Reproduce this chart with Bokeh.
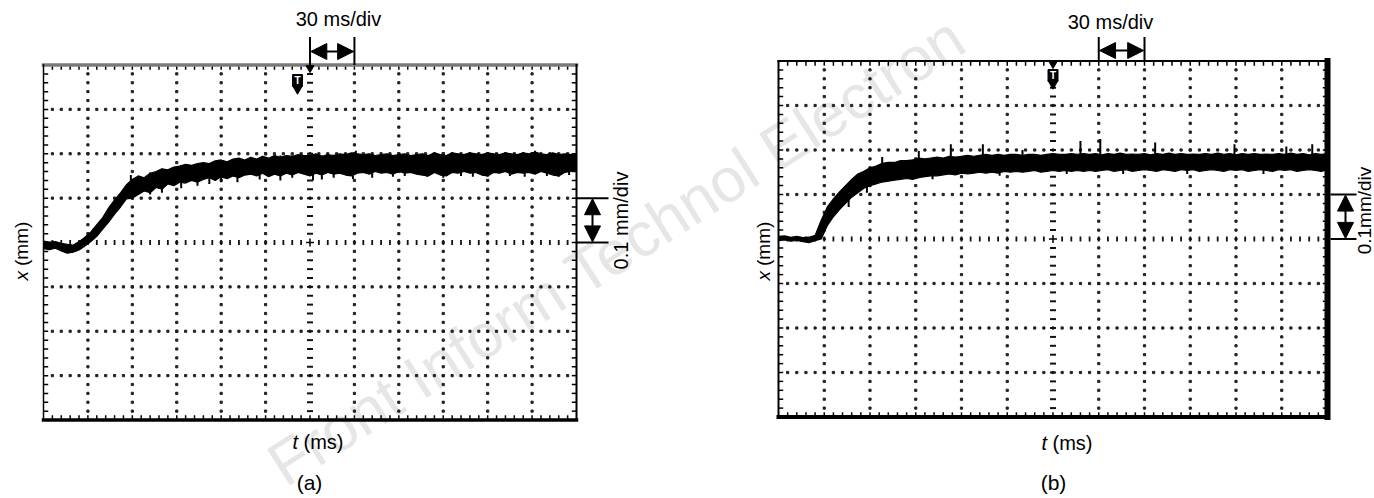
import math
from bokeh.plotting import figure
from bokeh.models import Range1d, Arrow, NormalHead
from bokeh.core.properties import value
from bokeh.embed import file_html
from bokeh.resources import INLINE

# ------------------------------------------------------------------ data
# time axis of both traces (ms), 30 ms/div, 12 div; trigger at centre
T_MS = list(range(0, 361, 4))

# panel (a): envelope of the noisy displacement trace (mm)
A_LOW = [-0.014, -0.016, -0.013, -0.019, -0.024, -0.022, -0.017, -0.008, 0.002, 0.014,
         0.030, 0.046, 0.064, 0.080, 0.098, 0.100, 0.108, 0.116, 0.112, 0.124,
         0.120, 0.132, 0.128, 0.136, 0.134, 0.140, 0.136, 0.142, 0.146, 0.140,
         0.148, 0.144, 0.150, 0.146, 0.152, 0.154, 0.150, 0.156, 0.148, 0.154,
         0.150, 0.156, 0.152, 0.158, 0.154, 0.150, 0.156, 0.152, 0.158, 0.154,
         0.156, 0.152, 0.150, 0.156, 0.158, 0.154, 0.160, 0.156, 0.158, 0.154,
         0.160, 0.156, 0.158, 0.154, 0.152, 0.150, 0.158, 0.152, 0.150, 0.158,
         0.156, 0.160, 0.156, 0.158, 0.152, 0.150, 0.158, 0.156, 0.160, 0.154,
         0.158, 0.156, 0.158, 0.154, 0.160, 0.156, 0.152, 0.150, 0.158, 0.160,
         0.162]
A_HIGH = [0.003, 0.001, 0.002, -0.002, -0.004, -0.006, 0.002, 0.012, 0.024, 0.040,
          0.056, 0.078, 0.096, 0.112, 0.130, 0.142, 0.150, 0.146, 0.156, 0.160,
          0.166, 0.164, 0.170, 0.172, 0.176, 0.174, 0.178, 0.180, 0.178, 0.184,
          0.186, 0.182, 0.188, 0.190, 0.186, 0.192, 0.188, 0.194, 0.190, 0.196,
          0.192, 0.196, 0.194, 0.198, 0.196, 0.196, 0.200, 0.194, 0.198, 0.196,
          0.200, 0.198, 0.202, 0.200, 0.198, 0.200, 0.196, 0.198, 0.200, 0.196,
          0.198, 0.200, 0.196, 0.198, 0.200, 0.196, 0.202, 0.198, 0.196, 0.202,
          0.200, 0.198, 0.202, 0.200, 0.198, 0.202, 0.200, 0.198, 0.202, 0.200,
          0.198, 0.202, 0.200, 0.204, 0.200, 0.198, 0.202, 0.198, 0.200, 0.198,
          0.200]
A_SPIKE_T = [59, 72, 80, 93, 104, 112, 120, 131, 146, 160, 168, 182, 188, 196, 209,
             211, 222, 236, 244, 259, 270, 282, 290, 300, 315, 325, 332, 340, 348, 355]
A_SPIKE_LO = [0.104, 0.108, 0.112, 0.122, 0.128, 0.132, 0.136, 0.136, 0.142, 0.140,
              0.146, 0.140, 0.142, 0.146, 0.143, 0.160, 0.146, 0.148, 0.150, 0.148,
              0.146, 0.150, 0.148, 0.148, 0.150, 0.148, 0.160, 0.150, 0.148, 0.152]
A_SPIKE_HI = [0.152, 0.158, 0.166, 0.174, 0.170, 0.176, 0.184, 0.186, 0.190, 0.196,
              0.196, 0.196, 0.196, 0.198, 0.196, 0.207, 0.198, 0.196, 0.198, 0.196,
              0.198, 0.200, 0.200, 0.198, 0.200, 0.200, 0.207, 0.198, 0.198, 0.200]

# panel (b)
B_LOW = [-0.004, -0.002, -0.005, -0.003, -0.006, -0.008, -0.004, 0.000, 0.030, 0.050,
         0.066, 0.080, 0.094, 0.104, 0.114, 0.120, 0.124, 0.128, 0.130, 0.132,
         0.134, 0.136, 0.134, 0.138, 0.140, 0.142, 0.142, 0.144, 0.146, 0.144,
         0.148, 0.146, 0.148, 0.150, 0.148, 0.150, 0.148, 0.152, 0.150, 0.152,
         0.150, 0.152, 0.154, 0.150, 0.152, 0.154, 0.152, 0.154, 0.152, 0.154,
         0.152, 0.154, 0.152, 0.154, 0.156, 0.152, 0.154, 0.156, 0.152, 0.154,
         0.156, 0.154, 0.152, 0.156, 0.154, 0.152, 0.156, 0.154, 0.156, 0.152,
         0.154, 0.156, 0.154, 0.152, 0.156, 0.154, 0.156, 0.152, 0.154, 0.156,
         0.154, 0.152, 0.156, 0.154, 0.156, 0.152, 0.154, 0.156, 0.154, 0.152,
         0.156]
B_HIGH = [0.006, 0.007, 0.004, 0.006, 0.003, 0.004, 0.008, 0.042, 0.072, 0.090,
          0.106, 0.120, 0.134, 0.146, 0.152, 0.160, 0.164, 0.170, 0.172, 0.172,
          0.176, 0.176, 0.178, 0.182, 0.180, 0.182, 0.184, 0.182, 0.186, 0.184,
          0.186, 0.188, 0.186, 0.188, 0.190, 0.188, 0.190, 0.188, 0.190, 0.190,
          0.188, 0.190, 0.190, 0.188, 0.190, 0.192, 0.190, 0.190, 0.192, 0.190,
          0.192, 0.190, 0.192, 0.189, 0.192, 0.190, 0.193, 0.190, 0.191, 0.190,
          0.192, 0.189, 0.192, 0.190, 0.193, 0.190, 0.192, 0.190, 0.191, 0.190,
          0.192, 0.190, 0.193, 0.190, 0.192, 0.189, 0.192, 0.190, 0.192, 0.190,
          0.191, 0.190, 0.192, 0.190, 0.193, 0.190, 0.192, 0.189, 0.192, 0.190,
          0.192]
B_SPIKE_T = [46, 58, 68, 92, 101, 113, 134, 145, 160, 189, 198, 211, 226, 247, 268,
             299, 318, 333, 350]
B_SPIKE_LO = [0.072, 0.104, 0.165, 0.172, 0.134, 0.176, 0.178, 0.142, 0.180, 0.146,
              0.180, 0.180, 0.146, 0.180, 0.146, 0.180, 0.146, 0.180, 0.180]
B_SPIKE_HI = [0.110, 0.140, 0.184, 0.198, 0.160, 0.213, 0.213, 0.170, 0.200, 0.170,
              0.220, 0.225, 0.170, 0.217, 0.170, 0.213, 0.170, 0.208, 0.213]

for arr in (A_LOW, A_HIGH, B_LOW, B_HIGH):
    assert len(arr) == len(T_MS)
assert len(A_SPIKE_T) == len(A_SPIKE_LO) == len(A_SPIKE_HI)
assert len(B_SPIKE_T) == len(B_SPIKE_LO) == len(B_SPIKE_HI)

# texts
TIME_DIV = "30 ms/div"
AMP_DIV = ["0.1 mm/div", "0.1mm/div"]
Y_LABEL = ("x", "(mm)")
X_LABEL = ("t", "(ms)")
CAPTIONS = ["(a)", "(b)"]
WATERMARK = "Front Inform Technol Electron"

# ------------------------------------------------------------------ figure
W, H = 1374, 498
FONT = "Liberation Sans"

p = figure(width=W, height=H, x_range=Range1d(0, W), y_range=Range1d(H, 0),
           output_backend="svg", toolbar_location=None, min_border=0,
           x_axis_location=None, y_axis_location=None, outline_line_color=None)
p.xgrid.grid_line_color = None
p.ygrid.grid_line_color = None
p.background_fill_color = "white"
p.border_fill_color = "white"


def txt(x, y, s, size, angle=0.0, align="center", baseline="middle",
        style="normal", color="black"):
    p.text(x=[x], y=[y], text=[s], angle=angle, text_font=value(FONT),
           text_font_size=f"{size}px", text_font_style=style, text_color=color,
           text_align=align, text_baseline=baseline)


# watermark (behind everything)
txt(616, 250, WATERMARK, 62, angle=0.57, color="#e6e6e6")

panels = [
    dict(name="a", L=43, R=576, T=64.5, B=419.5, low=A_LOW, high=A_HIGH,
         st=A_SPIKE_T, slo=A_SPIKE_LO, shi=A_SPIKE_HI,
         top=("#7a7a7a", 3.5), left=("black", 1.5), bottom=("black", 3.5), right=("black", 2),
         div_lines=(180, 210), div_top=36.5, div_arrow=51, div_text=(338, 18),
         amp_x=(576, 608, 592), amp_text=(620, 220), amp_size=20,
         ylab=(21, 280), xlab=(292, 441), cap=(309, 482),
         badge=(297, 80), trig_y=67.5),
    dict(name="b", L=778, R=1327, T=60.5, B=416.5, low=B_LOW, high=B_HIGH,
         st=B_SPIKE_T, slo=B_SPIKE_LO, shi=B_SPIKE_HI,
         top=("black", 2), left=("black", 2), bottom=("black", 4), right=("black", 6),
         div_lines=(210, 240), div_top=36.5, div_arrow=50, div_text=(1110, 21),
         amp_x=(1330, 1356, 1345), amp_text=(1364, 210), amp_size=19,
         ylab=(763, 280), xlab=(1041, 442), cap=(1053, 482),
         badge=(1052.5, 75), trig_y=63.5),
]

ex_x, ex_y = {}, {}
for P in panels:
    Lc, Rc, Tc, Bc = P["L"], P["R"], P["T"], P["B"]
    sx = (Rc - Lc) / 360.0
    sy = (Bc - Tc) / 0.8
    Cc = (Tc + Bc) / 2.0
    xr, yr = "t_" + P["name"], "x_" + P["name"]
    ex_x[xr] = Range1d(-Lc / sx, (W - Lc) / sx)
    ex_y[yr] = Range1d((Cc - H) / sy, Cc / sy)
    P.update(Tc=Tc, sx=sx, sy=sy, xr=xr, yr=yr)
p.extra_x_ranges = ex_x
p.extra_y_ranges = ex_y

for P in panels:
    kw = dict(x_range_name=P["xr"], y_range_name=P["yr"])
    sx, sy = P["sx"], P["sy"]

    # dotted major grid lines (dots every 1/5 division)
    gx, gy = [], []
    for k in range(1, 12):
        if k == 6:
            continue
        for j in range(1, 40):
            gx.append(30 * k)
            gy.append(-0.4 + 0.02 * j)
    for m in (-3, -2, -1, 1, 2, 3):
        for j in range(1, 60):
            gx.append(6 * j)
            gy.append(0.1 * m)
    p.scatter(gx, gy, marker="square", size=2.2, color="#222222", **kw)

    # centre cross with tick marks
    cy = [0.02 * j for j in range(-19, 20) if j != 0]
    p.scatter([180] * len(cy), cy, marker="dash", size=6, line_width=2, color="#111111", **kw)
    cx = [6 * j for j in range(1, 60) if j != 30]
    p.scatter(cx, [0] * len(cx), marker="dash", size=5, angle=math.pi / 2,
              line_width=1.8, color="#111111", **kw)
    p.scatter([180], [0], marker="cross", size=8, line_width=1.5, color="black", **kw)

    # ticks along the frame edges
    ey = [-0.4 + 0.02 * j for j in range(1, 40)]
    ex = [6 * j for j in range(1, 60)]
    p.scatter([2.2 / sx] * len(ey), ey, marker="dash", size=5, line_width=1.5, color="black", **kw)
    p.scatter([360 - 2.2 / sx] * len(ey), ey, marker="dash", size=5, line_width=1.5, color="black", **kw)
    p.scatter(ex, [0.4 - 2.2 / sy] * len(ex), marker="dash", size=5, angle=math.pi / 2,
              line_width=1.5, color="black", **kw)
    p.scatter(ex, [-0.4 + 2.2 / sy] * len(ex), marker="dash", size=5, angle=math.pi / 2,
              line_width=1.5, color="black", **kw)

    # the trace
    p.varea(x=T_MS, y1=P["low"], y2=P["high"], fill_color="black", **kw)
    p.line(x=T_MS, y=P["low"], line_color="black", line_width=1.2, **kw)
    p.line(x=T_MS, y=P["high"], line_color="black", line_width=1.2, **kw)
    p.segment(x0=P["st"], y0=P["slo"], x1=P["st"], y1=P["shi"], line_color="black",
              line_width=2, **kw)

    # frame
    for (x0, y0, x1, y1), (col, lw) in [((0, 0.4, 360, 0.4), P["top"]),
                                         ((0, -0.4, 0, 0.4), P["left"]),
                                         ((0, -0.4, 360, -0.4), P["bottom"]),
                                         ((360, -0.4, 360, 0.4), P["right"])]:
        p.segment(x0=[x0], y0=[y0], x1=[x1], y1=[y1], line_color=col, line_width=lw,
                  line_cap="square", **kw)

    # trigger marker
    p.scatter([180], [P["trig_y"]], marker="inverted_triangle", size=8, color="black",
              x_range_name=P["xr"])
    bx, by = P["badge"]
    p.rect([bx], [by], width=10, height=12, width_units="screen", height_units="screen",
           fill_color="black", line_color="black")
    p.scatter([bx], [by + 8], marker="inverted_triangle", size=10, color="black")
    txt(bx, by - 0.5, "T", 10, style="bold", color="white")

    # 30 ms/div bracket
    d0, d1 = P["div_lines"]
    p.segment(x0=[d0, d1], y0=[P["div_top"]] * 2, x1=[d0, d1], y1=[P["Tc"]] * 2,
              line_color="black", line_width=2, x_range_name=P["xr"])
    ya = P["div_arrow"]
    p.add_layout(Arrow(x_start=d0 + 0.8 / sx, y_start=ya, x_end=d1 - 0.8 / sx, y_end=ya,
                       line_width=2, line_color="black",
                       start=NormalHead(size=16, fill_color="black", line_color="black"),
                       end=NormalHead(size=16, fill_color="black", line_color="black"),
                       x_range_name=P["xr"]))
    tx, ty = P["div_text"]
    txt(tx, ty, TIME_DIV, 20)

    # 0.1 mm/div bracket
    a0, a1, ax = P["amp_x"]
    p.segment(x0=[a0] * 2, y0=[0.1, 0.0], x1=[a1] * 2, y1=[0.1, 0.0],
              line_color="black", line_width=2, y_range_name=P["yr"])
    p.add_layout(Arrow(x_start=ax, y_start=0.0 + 0.6 / sy, x_end=ax, y_end=0.1 - 0.6 / sy,
                       line_width=2, line_color="black",
                       start=NormalHead(size=16, fill_color="black", line_color="black"),
                       end=NormalHead(size=16, fill_color="black", line_color="black"),
                       y_range_name=P["yr"]))
    atx, aty = P["amp_text"]
    txt(atx, aty, AMP_DIV[0 if P["name"] == "a" else 1], P["amp_size"], angle=math.pi / 2)

    # axis labels
    lx, ly = P["ylab"]
    txt(lx, ly, Y_LABEL[0], 19, angle=math.pi / 2, align="left", style="italic")
    txt(lx, ly - 14.5, Y_LABEL[1], 19, angle=math.pi / 2, align="left")
    xx, xy = P["xlab"]
    txt(xx, xy, X_LABEL[0], 20, align="left", style="italic")
    txt(xx + 11, xy, X_LABEL[1], 20, align="left")

    cxp, cyp = P["cap"]
    txt(cxp, cyp, CAPTIONS[0 if P["name"] == "a" else 1], 21)

open("out.html", "w").write(file_html(p, INLINE))
